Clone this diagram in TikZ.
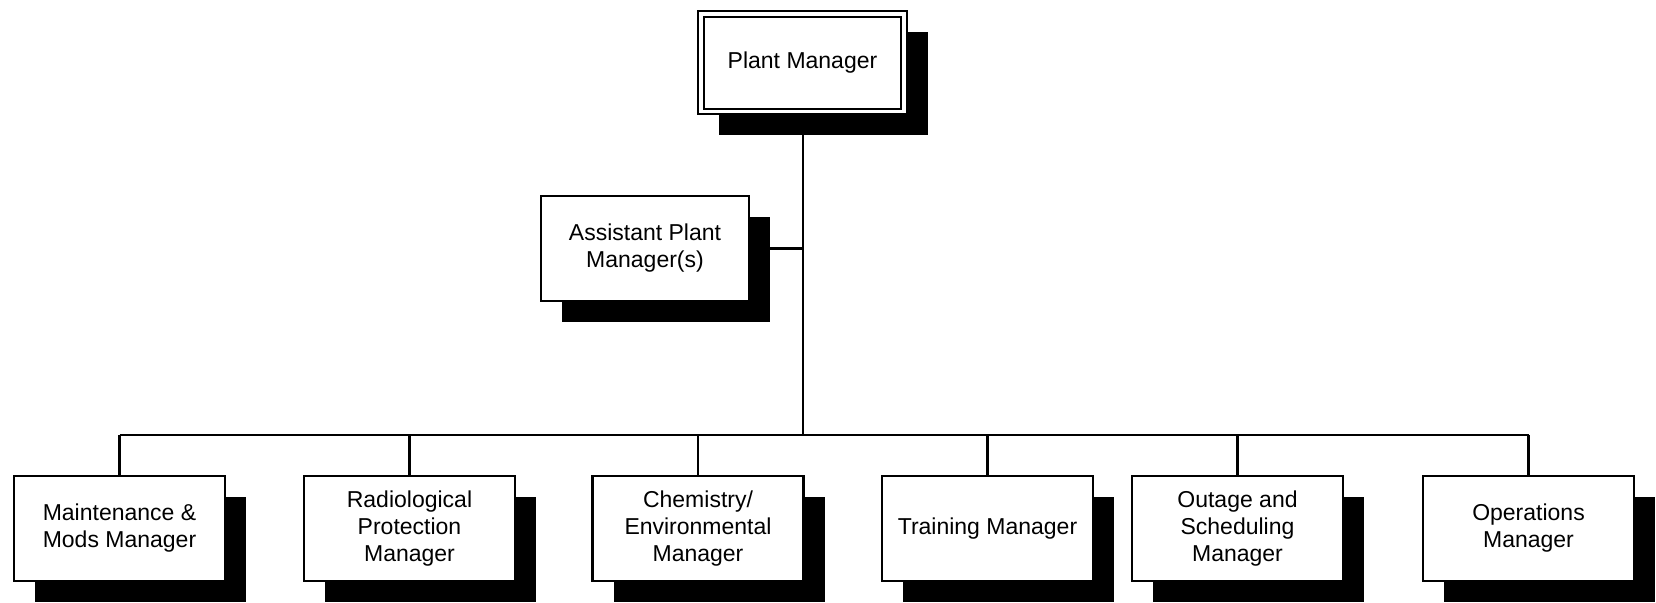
\documentclass[tikz,border=0pt]{standalone}
\usepackage{fontspec}
\setmainfont{Liberation Sans}
\usetikzlibrary{shadows}
\begin{document}
\begin{tikzpicture}[x=1pt,y=-1pt,
  orgbox/.style={draw, fill=white, line width=2.1pt,
    minimum width=211pt, minimum height=105pt, inner sep=0pt,
    align=center, font=\fontsize{23}{27}\selectfont,
    drop shadow={shadow xshift=21pt, shadow yshift=-21pt, fill=black, opacity=1}},
  link/.style={line width=2.1pt}]
\useasboundingbox (0,0) rectangle (1656,602);
\clip (0,0) rectangle (1656,602);

% top of the chart
\node[orgbox, minimum width=209pt, minimum height=103pt] (pm) at (802.5,62.5) {Plant Manager};
\draw[line width=2.1pt] ([shift={(7,7)}]pm.north west) rectangle ([shift={(-7,-6)}]pm.south east);

\node[orgbox, minimum width=208pt, minimum height=105pt] (ap) at (645,248.5) {Assistant Plant\\Manager(s)};

% department managers
\node[orgbox] (m1) at (119.5,528.5) {Maintenance \&\\Mods Manager};
\node[orgbox] (m2) at (409.5,528.5) {Radiological\\Protection\\Manager};
\node[orgbox] (m3) at (698,528.5)   {Chemistry/\\Environmental\\Manager};
\node[orgbox] (m4) at (987.5,528.5) {Training Manager};
\node[orgbox] (m5) at (1237.5,528.5) {Outage and\\Scheduling\\Manager};
\node[orgbox] (m6) at (1528.5,528.5) {Operations\\Manager};

% reporting lines
\coordinate (bus) at (803,435);
\draw[link] (pm.south -| bus) -- (bus);
\draw[link] (ap.east) -- (ap.east -| bus);
\draw[link] (m1.north |- bus) -- (m6.north |- bus);
\foreach \i in {1,...,6}
  \draw[link] (m\i.north) -- (m\i.north |- bus);
\end{tikzpicture}
\end{document}
